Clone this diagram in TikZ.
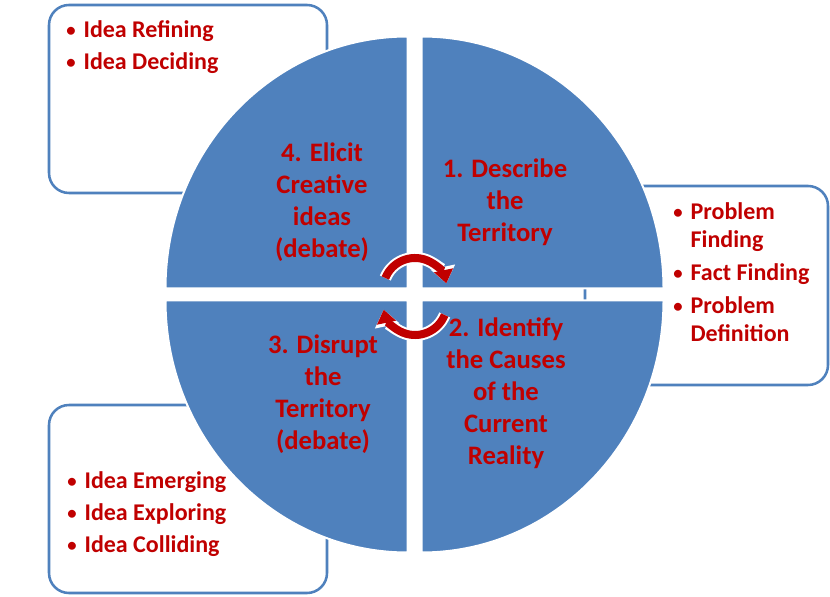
\documentclass[tikz,border=0pt]{standalone}
\usepackage{fontspec}
\setmainfont{Carlito}
\usetikzlibrary{arrows.meta}
\definecolor{quadblue}{RGB}{79,129,189}
\definecolor{labelred}{RGB}{192,0,0}
\newcommand{\bul}{\makebox[13pt][l]{\fontsize{14}{14}\selectfont\raisebox{1pt}{\textbullet}}}
\newcommand{\cont}{\hspace*{13pt}}
\tikzset{
  listbox/.style={draw=quadblue, line width=1.9pt, rounded corners=15pt, fill=white},
  quad/.style={fill=quadblue, draw=white, line width=1.5pt},
  quadlabel/.style={text=labelred, font=\bfseries\fontsize{20}{24}\selectfont, align=center, inner sep=0pt},
  listtext/.style={text=labelred, font=\bfseries\fontsize{18}{24}\selectfont, align=left, anchor=base west, inner sep=0pt},
  turnhalo/.style={line width=9pt, draw=white, -{Triangle[width=18pt,length=12.5pt]}},
  turn/.style={line width=6pt, draw=labelred, -{Triangle[width=14pt,length=10pt]}}
}
\begin{document}
\begin{tikzpicture}[x=0.75pt,y=0.75pt]
  \useasboundingbox (0,0) rectangle (830,596);
  \fill[white] (0,0) rectangle (830,596);
  % lists behind the wheel
  \node[listbox, minimum width=208.5pt, minimum height=141pt] (refine) at (188,497) {};
  \node[listbox, minimum width=182.25pt, minimum height=149.25pt] (finding) at (706.5,310.5) {};
  \node[listbox, minimum width=208.5pt, minimum height=141pt] (emerge) at (188,97) {};
  \node[listtext] (refinetext) at (66,526) {\bul Idea Refining\\\bul Idea Deciding};
  \node[listtext, font=\bfseries\fontsize{18}{21}\selectfont] (findingtext) at (673,254.5)
    {\bul Problem\\\cont Finding\\[3.75pt]\bul Fact Finding\\[3.75pt]\bul Problem\\\cont Definition};
  \node[listtext] (emergetext) at (67,43.5) {\bul Idea Emerging\\\bul Idea Exploring\\\bul Idea Colliding};
  % the four quarters
  \draw[quad] (407.5,307.5) -- ++(-242,0) arc[start angle=180, end angle=90, x radius=242, y radius=252] -- cycle;
  \draw[quad] (421.5,307.5) -- ++(0,252) arc[start angle=90, end angle=0, x radius=242, y radius=252] -- cycle;
  \draw[quad] (421.5,295.5) -- ++(242,0) arc[start angle=0, end angle=-90, x radius=242, y radius=252] -- cycle;
  \draw[quad] (407.5,295.5) -- ++(0,-252) arc[start angle=270, end angle=180, x radius=242, y radius=252] -- cycle;
  \node[quadlabel] (elicit) at (322,394) {4. Elicit\\Creative\\ideas\\(debate)};
  \node[quadlabel] (describe) at (505,394) {1. Describe\\the\\Territory};
  \node[quadlabel] (disrupt) at (323,202) {3. Disrupt\\the\\Territory\\(debate)};
  \node[quadlabel] (identify) at (506,203) {2. Identify\\the Causes\\of the\\Current\\Reality};
  % turning arrows in the middle
  \coordinate (upperhub) at (415,306);
  \coordinate (lowerhub) at (415,293);
  \coordinate (upperstart) at ([shift={(158:32)}]upperhub);
  \coordinate (lowerstart) at ([shift={(-22:32)}]lowerhub);
  \draw[turnhalo] (upperstart) arc[start angle=158, end angle=12, radius=32];
  \draw[turn] (upperstart) arc[start angle=158, end angle=12, radius=32];
  \draw[turnhalo] (lowerstart) arc[start angle=-22, end angle=-168, radius=32];
  \draw[turn] (lowerstart) arc[start angle=-22, end angle=-168, radius=32];
\end{tikzpicture}
\end{document}
